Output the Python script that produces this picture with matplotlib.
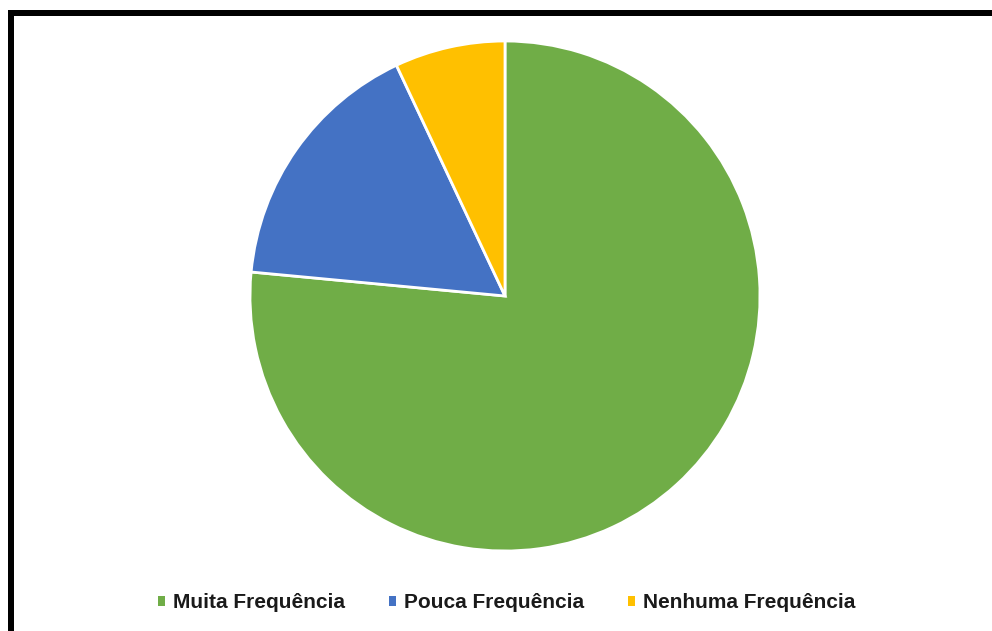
import matplotlib.pyplot as plt
from matplotlib.lines import Line2D
from matplotlib.patches import Patch

plt.rcParams["font.family"] = ["Liberation Sans", "DejaVu Sans"]

labels = ["Muita Frequência", "Pouca Frequência", "Nenhuma Frequência"]
values = [76.5, 16.5, 7.0]
colors = ["#70AD47", "#4472C4", "#FFC000"]

W, H = 992, 631
fig = plt.figure(figsize=(W / 100, H / 100), dpi=100)

# pie centred at (505, 296) px with radius 255 px
cx, cy, r = 505, 296, 255
ax = fig.add_axes([(cx - r) / W, (H - cy - r) / H, 2 * r / W, 2 * r / H])
ax.pie(
    values,
    colors=colors,
    startangle=90,
    counterclock=False,
    radius=1,
    wedgeprops=dict(edgecolor="white", linewidth=2),
)
ax.set_xlim(-1, 1)
ax.set_ylim(-1, 1)
ax.set_aspect("equal")
ax.axis("off")

handles = [Patch(facecolor=c, edgecolor="none") for c in colors]
leg = fig.legend(
    handles,
    labels,
    loc="center",
    bbox_to_anchor=(507 / W, (H - 603) / H),
    ncol=3,
    frameon=False,
    fontsize=15,
    handlelength=0.33,
    handleheight=0.33,
    handletextpad=0.4,
    columnspacing=2.1,
)
for t in leg.get_texts():
    t.set_fontweight("bold")
    t.set_color("#1a1a1a")

# thick black frame (top and left edges visible)
lw = 6 * 72 / 100
fig.add_artist(Line2D([11 / W, 11 / W], [0, 1 - 10 / H], color="black", lw=lw,
                      transform=fig.transFigure, solid_capstyle="butt"))
fig.add_artist(Line2D([8 / W, 1], [1 - 13 / H, 1 - 13 / H], color="black", lw=lw,
                      transform=fig.transFigure, solid_capstyle="butt"))

fig.savefig("out.png", dpi=100)
